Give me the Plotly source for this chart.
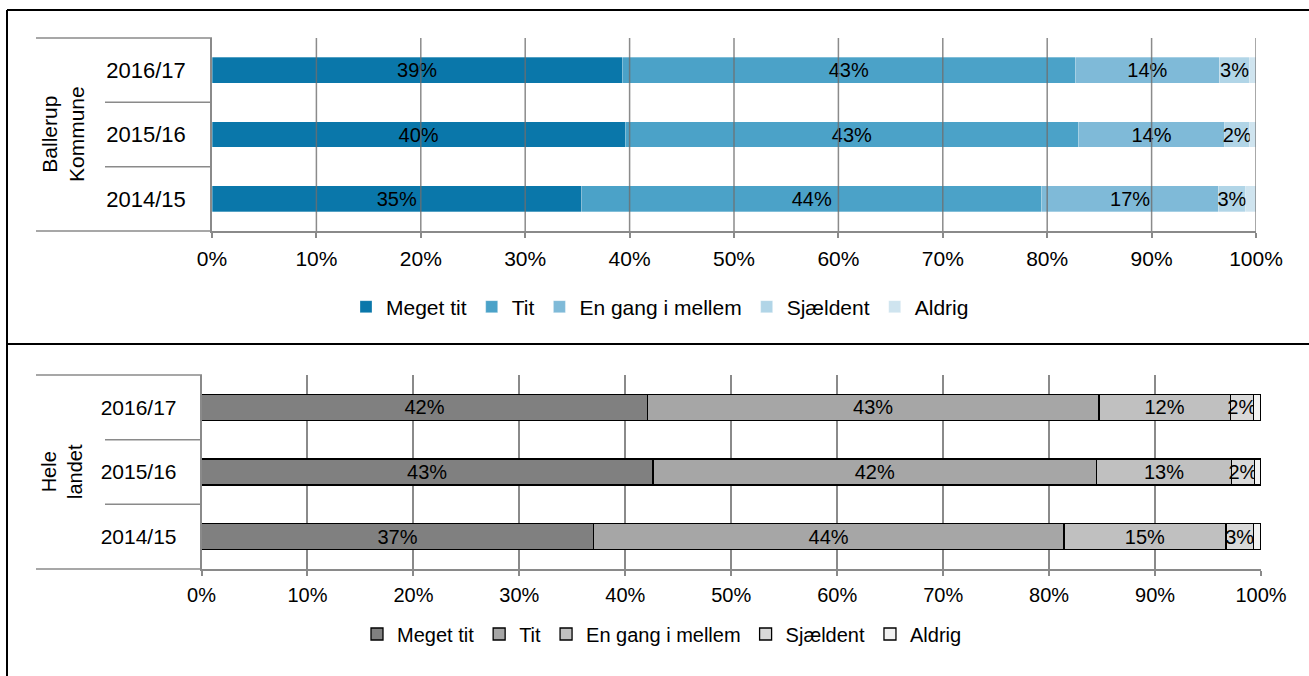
import plotly.graph_objects as go

W, H = 1309, 676

years = ["2014/15", "2015/16", "2016/17"]
answers = ["Meget tit", "Tit", "En gang i mellem", "Sjældent", "Aldrig"]

# Ballerup Kommune, share per answer, order matches years
ballerup_meget = [35.4, 39.6, 39.3]
ballerup_tit = [44.1, 43.4, 43.4]
ballerup_engang = [16.9, 14.0, 13.8]
ballerup_sjaeldent = [2.6, 2.4, 2.9]
ballerup_aldrig = [1.0, 0.6, 0.6]

# Hele landet
landet_meget = [37.0, 42.6, 42.1]
landet_tit = [44.4, 41.9, 42.6]
landet_engang = [15.3, 12.7, 12.4]
landet_sjaeldent = [2.6, 2.2, 2.2]
landet_aldrig = [0.7, 0.6, 0.7]

x_ticks = [0, 10, 20, 30, 40, 50, 60, 70, 80, 90, 100]
x_labels = ["0%", "10%", "20%", "30%", "40%", "50%", "60%", "70%", "80%", "90%", "100%"]

blue_colors = ["#0a77aa", "#4ba2c8", "#7fbad8", "#b1d5e7", "#cfe4ef"]
grey_colors = ["#808080", "#a6a6a6", "#c0c0c0", "#d9d9d9", "#f2f2f2"]

FONT = "Liberation Sans"
GRID = "#8a8a8a"


def px_x(x):
    return x / W


def px_y(y):
    return 1 - y / H


fig = go.Figure()

ballerup = [ballerup_meget, ballerup_tit, ballerup_engang, ballerup_sjaeldent, ballerup_aldrig]
landet = [landet_meget, landet_tit, landet_engang, landet_sjaeldent, landet_aldrig]

for i, name in enumerate(answers):
    vals = ballerup[i]
    labels = ["" if name == "Aldrig" else f"{v:.0f}%" for v in vals]
    fig.add_trace(go.Bar(y=years, x=vals, orientation="h", name=name, text=labels,
                         textposition="inside", insidetextanchor="middle", textangle=0,
                         textfont=dict(family=FONT, size=20, color="black"),
                         marker=dict(color=blue_colors[i], line=dict(color="rgba(255,255,255,0.5)", width=0.6)),
                         width=0.4, xaxis="x", yaxis="y", legend="legend", hoverinfo="skip"))

for i, name in enumerate(answers):
    vals = landet[i]
    labels = ["" if name == "Aldrig" else f"{v:.0f}%" for v in vals]
    fig.add_trace(go.Bar(y=years, x=vals, orientation="h", name=name, text=labels,
                         textposition="inside", insidetextanchor="middle", textangle=0,
                         textfont=dict(family=FONT, size=20, color="black"),
                         marker=dict(color=grey_colors[i], line=dict(color="black", width=1.3)),
                         width=0.4, xaxis="x2", yaxis="y2", legend="legend2", hoverinfo="skip"))

shapes = []
# frame lines around the two panels
line_k = dict(color="black", width=2)
shapes.append(dict(type="line", xref="paper", yref="paper", x0=px_x(7), x1=1.0, y0=px_y(10), y1=px_y(10), line=line_k))
shapes.append(dict(type="line", xref="paper", yref="paper", x0=px_x(7), x1=px_x(7), y0=px_y(10), y1=0, line=line_k))
shapes.append(dict(type="line", xref="paper", yref="paper", x0=px_x(7), x1=1.0, y0=px_y(344), y1=px_y(344), line=line_k))

# category separators extending left of the plot
for yref, x_edge in [("y domain", 212), ("y2 domain", 202)]:
    for yv, x_start in [(1, 36), (2 / 3, 105), (1 / 3, 105), (0, 36)]:
        shapes.append(dict(type="line", xref="paper", yref=yref, x0=px_x(x_start), x1=px_x(x_edge),
                           y0=yv, y1=yv, line=dict(color=GRID, width=1.5)))

# top panel grid lines sit on top of the bars
for t in x_ticks[1:]:
    shapes.append(dict(type="line", xref="x", yref="y domain", x0=t, x1=t, y0=0, y1=1,
                       layer="above", line=dict(color="rgba(110,110,110,0.8)", width=1.5)))

fig.update_layout(
    width=W, height=H, autosize=False,
    margin=dict(l=0, r=0, t=0, b=0, autoexpand=False),
    paper_bgcolor="white", plot_bgcolor="white",
    barmode="stack", showlegend=True,
    font=dict(family=FONT, size=20, color="black"),
    uniformtext=dict(minsize=20, mode="show"),
    shapes=shapes,
    xaxis=dict(domain=[px_x(212), px_x(1256)], anchor="y", range=[0, 100], tickmode="array",
               tickvals=x_ticks, ticktext=x_labels, showgrid=False, zeroline=False, showline=True,
               linecolor=GRID, linewidth=1.5, ticks="outside", ticklen=5, tickcolor=GRID, tickwidth=1.5,
               ticklabelstandoff=3, tickfont=dict(size=21), automargin=False),
    yaxis=dict(domain=[px_y(231), px_y(38)], anchor="x", type="category",
               categoryorder="array", categoryarray=years, range=[-0.5, 2.5],
               showgrid=False, zeroline=False, showline=True, linecolor=GRID, linewidth=1.5,
               ticks="", ticklabelstandoff=20, tickfont=dict(size=22), automargin=False),
    xaxis2=dict(domain=[px_x(201.5), px_x(1261)], anchor="y2", range=[0, 100], tickmode="array",
                tickvals=x_ticks, ticktext=x_labels, showgrid=True, gridcolor=GRID, gridwidth=1.5,
                zeroline=False, showline=True, linecolor=GRID, linewidth=1.5, ticks="outside", ticklen=5,
                tickcolor=GRID, tickwidth=1.5, ticklabelstandoff=2, tickfont=dict(size=20), automargin=False),
    yaxis2=dict(domain=[px_y(569), px_y(375)], anchor="x2", type="category",
                categoryorder="array", categoryarray=years, range=[-0.5, 2.5],
                showgrid=False, zeroline=False, showline=True, linecolor=GRID, linewidth=1.5,
                ticks="", ticklabelstandoff=19, tickfont=dict(size=21), automargin=False),
    legend=dict(orientation="h", x=px_x(660), xanchor="center", y=px_y(307), yanchor="middle",
                font=dict(size=21), traceorder="normal", bgcolor="rgba(0,0,0,0)"),
    legend2=dict(orientation="h", x=px_x(662), xanchor="center", y=px_y(634), yanchor="middle",
                 font=dict(size=20), traceorder="normal", bgcolor="rgba(0,0,0,0)"),
    annotations=[
        dict(text="Ballerup<br>Kommune", xref="paper", yref="paper", x=px_x(63), y=px_y(134),
             xanchor="center", yanchor="middle", textangle=-90, showarrow=False, font=dict(size=21)),
        dict(text="Hele<br>landet", xref="paper", yref="paper", x=px_x(62), y=px_y(471),
             xanchor="center", yanchor="middle", textangle=-90, showarrow=False, font=dict(size=20)),
    ],
)

fig.write_html("out.html", config={"responsive": False, "displayModeBar": False},
               post_script="document.body.style.margin='0';document.documentElement.style.overflow='hidden';")
